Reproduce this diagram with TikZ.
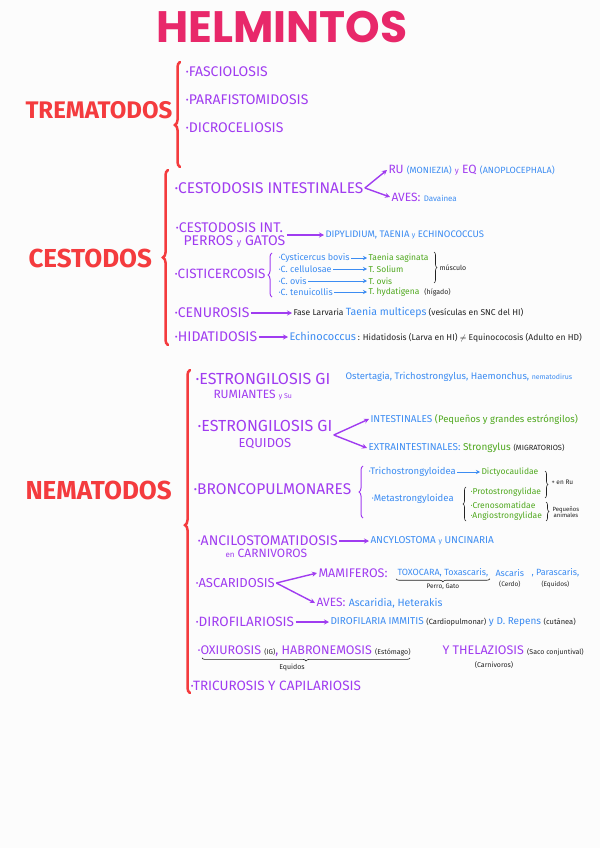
\documentclass[tikz,border=0pt]{standalone}
\usepackage{fontspec}
\setmainfont{Fira Sans}
\newfontfamily\titlefont{Poppins}
\IfFontExistsTF{FiraSans-Medium.otf}
  {\newfontfamily\itemfont{FiraSans-Medium.otf}}
  {\newfontfamily\itemfont{Fira Sans}}
\usetikzlibrary{arrows.meta,positioning,decorations.pathreplacing}
\definecolor{titlepink}{HTML}{E8286A}
\definecolor{catred}{HTML}{F43B3E}
\definecolor{vio}{HTML}{A03CF0}
\definecolor{azul}{HTML}{3C8CF2}
\definecolor{verde}{HTML}{4FA81E}
\definecolor{tinta}{HTML}{222222}
\definecolor{paper}{HTML}{FCFCFC}

\newcommand{\azul}[2][9]{{\normalfont\color{azul}\fontsize{#1}{#1}\selectfont #2}}
\newcommand{\verde}[2][9]{{\normalfont\color{verde}\fontsize{#1}{#1}\selectfont #2}}
\newcommand{\nota}[2][7]{{\normalfont\color{tinta}\fontsize{#1}{#1}\selectfont #2}}
\newcommand{\fsz}[1]{\fontsize{#1}{#1}\selectfont}

\begin{document}
\begin{tikzpicture}[
    x=1pt, y=-1pt,
    every node/.style={inner sep=0.5pt, outer sep=1pt},
    titulo/.style={font=\titlefont\bfseries\fsz{44}, text=titlepink},
    grupo/.style={anchor=west, font=\bfseries\fsz{26}, text=catred},
    item/.style={anchor=west, font=\itemfont\fsz{14}, text=vio},
    sub/.style={anchor=west, font=\itemfont\fsz{12}, text=vio},
    bluetxt/.style={anchor=west, font=\fsz{9}, text=azul},
    greentxt/.style={anchor=west, font=\fsz{9}, text=verde},
    note/.style={anchor=west, font=\fsz{7}, text=tinta, align=center},
    bigbrace/.style={draw=catred, line width=2.5pt, line cap=round, decorate,
        decoration={brace, amplitude=5pt, aspect=#1}},
    bigbrace/.default=0.5,
    subbrace/.style={draw=vio, line width=1pt, decorate,
        decoration={brace, amplitude=4pt}},
    inkbrace/.style={draw=tinta, line width=0.6pt, decorate,
        decoration={brace, amplitude=3pt}},
    parrow/.style={-{Stealth[length=5pt, width=5pt]}, draw=vio, line width=1.4pt},
    barrow/.style={-{Stealth[length=4pt, width=4pt]}, draw=azul, line width=0.9pt}
]

% --- page ---
\fill[paper] (0,0) rectangle (600,848);
\useasboundingbox (0,0) rectangle (600,848);

\node[titulo] (title) at (282,27) {HELMINTOS};

% --- trematodos ---
\node[grupo, font=\bfseries\fsz{24}] (trem) at (24,110) {TREMATODOS};
\coordinate (tremtop) at (180,62);
\coordinate (trembot) at (180,167);
\draw[bigbrace=0.4] (trembot) -- (tremtop);
\node[item] (fasc) at (184,72) {·FASCIOLOSIS};
\node[item] (paraf) at (184,100) {·PARAFISTOMIDOSIS};
\node[item] (dicro) at (184,128) {·DICROCELIOSIS};

% --- cestodos ---
\node[grupo] (cest) at (27,258) {CESTODOS};
\coordinate (cesttop) at (168,170);
\coordinate (cestbot) at (168,345);
\draw[bigbrace=0.5] (cestbot) -- (cesttop);

\node[item, font=\itemfont\fsz{15.5}] (cint) at (173,188) {·CESTODOSIS INTESTINALES};
\node[sub] (rueq) at (387,170) {RU \azul{(MONIEZIA)} {\fsz{8}y} EQ \azul{(ANOPLOCEPHALA)}};
\node[sub] (avesc) at (390,197) {AVES: \azul[8]{Davainea}};
\draw[parrow] (cint.east) -- (rueq.west);
\draw[parrow] (cint.east) -- (avesc.west);

\node[item, align=left] (cperr) at (174,235) {·CESTODOSIS INT.\\[-1pt]\hspace*{8pt}PERROS {\fsz{9}y} GATOS};
\node[bluetxt, font=\fsz{9.5}] (dipy) at (324,235) {DIPYLIDIUM, TAENIA {\fsz{7}y} ECHINOCOCCUS};
\draw[parrow] (cperr.east) -- (dipy.west);

\node[item, font=\itemfont\fsz{13.5}] (cist) at (173,274) {·CISTICERCOSIS};
\coordinate (cisttop) at (272,253);
\coordinate (cistbot) at (272,297);
\draw[subbrace] (cistbot) -- (cisttop);
\node[bluetxt] (cbov) at (277,258) {·Cysticercus bovis};
\node[bluetxt] (ccel) at (277,269) {·C. cellulosae};
\node[bluetxt] (covi) at (277,281) {·C. ovis};
\node[bluetxt] (cten) at (277,292) {·C. tenuicollis};
\node[greentxt, font=\fsz{8.5}] (tsag) at (367,258) {Taenia saginata};
\node[greentxt, font=\fsz{8.5}] (tsol) at (367,269) {T. Solium};
\node[greentxt, font=\fsz{8.5}] (tovi) at (367,281) {T. ovis};
\node[greentxt, font=\fsz{8.5}] (thyd) at (367,292) {T. hydatigena};
\node[note, right=2pt of thyd] (higa) {(hígado)};
\foreach \a/\b in {cbov/tsag, ccel/tsol, covi/tovi, cten/thyd}
  \draw[barrow] (\a.east) -- (\b.west);
\coordinate (musctop) at (434,252);
\coordinate (muscbot) at (434,283);
\draw[inkbrace] (musctop) -- (muscbot);
\node[note] (musc) at (438,268) {músculo};

\node[item] (cenu) at (173,313) {·CENUROSIS};
\node[note, font=\fsz{8.5}] (fase) at (292,313) {Fase Larvaria \azul[10.5]{Taenia multiceps} (vesículas en SNC del HI)};
\draw[parrow] (cenu.east) -- (fase.west);

\node[item] (hida) at (173,337) {·HIDATIDOSIS};
\node[bluetxt, font=\fsz{11}] (echi) at (288,337) {Echinococcus\,\nota[8.5]{: Hidatidosis (Larva en HI) $\neq$ Equinococosis (Adulto en HD)}};
\draw[parrow] (hida.east) -- (echi.west);

% --- nematodos ---
\node[grupo] (nema) at (24,490) {NEMATODOS};
\coordinate (nematop) at (190,370);
\coordinate (nemabot) at (190,693);
\draw[bigbrace=0.52] (nemabot) -- (nematop);

\node[item, font=\itemfont\fsz{16}] (egru) at (194,379) {·ESTRONGILOSIS GI};
\node[sub] (rumi) at (212,395) {RUMIANTES {\fsz{7}y Su}};
\node[bluetxt, font=\fsz{9.5}] (oste) at (344,377) {Ostertagia, Trichostrongylus, Haemonchus, {\fsz{7}nematodirus}};

\node[item, font=\itemfont\fsz{16}, align=center] (eequ) at (196,435) {·ESTRONGILOSIS GI\\{\fsz{13}EQUIDOS}};
\node[bluetxt, font=\fsz{10}] (intes) at (369,419) {INTESTINALES \verde[9.5]{(Pequeños y grandes estróngilos)}};
\node[bluetxt, font=\fsz{10}] (extra) at (367,448) {EXTRAINTESTINALES: \verde[10]{Strongylus} \nota[7.5]{(MIGRATORIOS)}};
\draw[parrow] (eequ.east) -- (intes.west);
\draw[parrow] (eequ.east) -- (extra.west);

\node[item, font=\itemfont\fsz{15.5}] (bron) at (192,489) {·BRONCOPULMONARES};
\coordinate (brontop) at (363,466);
\coordinate (bronbot) at (363,518);
\draw[subbrace] (bronbot) -- (brontop);
\node[bluetxt, font=\fsz{9.5}] (tric) at (367,472) {·Trichostrongyloidea};
\node[greentxt, font=\fsz{8.5}] (dict) at (480,472) {Dictyocaulidae};
\draw[barrow] (tric.east) -- (dict.west);
\node[bluetxt, font=\fsz{9.5}] (meta) at (370,499) {·Metastrongyloidea};
\coordinate (metatop) at (466,487);
\coordinate (metabot) at (466,521);
\draw[inkbrace] (metabot) -- (metatop);
\node[greentxt, font=\fsz{8.5}] (prot) at (469,492) {·Protostrongylidae};
\node[greentxt, font=\fsz{8.5}] (cren) at (469,505) {·Crenosomatidae};
\node[greentxt, font=\fsz{8.5}] (angi) at (469,516) {·Angiostrongylidae};
\coordinate (rutop) at (545,471);
\coordinate (rubot) at (545,498);
\draw[inkbrace] (rutop) -- (rubot);
\node[note, font=\fsz{6.5}] (enru) at (550,482) {+ en Ru};
\coordinate (peqtop) at (546,502);
\coordinate (peqbot) at (546,521);
\draw[inkbrace] (peqtop) -- (peqbot);
\node[note, font=\fsz{6}] (peqa) at (551,512) {Pequeños\\animales};

\node[item] (anci) at (196,541) {·ANCILOSTOMATIDOSIS};
\node[sub] (encar) at (224,553) {{\fsz{8}en} CARNIVOROS};
\node[bluetxt, font=\fsz{10}] (ancy) at (369,541) {ANCYLOSTOMA {\fsz{7}y} UNCINARIA};
\draw[parrow] (anci.east) -- (ancy.west);

\node[item, font=\itemfont\fsz{13}] (asca) at (194,583) {·ASCARIDOSIS};
\node[sub, font=\itemfont\fsz{12.5}] (mami) at (317,573) {MAMIFEROS:};
\node[bluetxt] (toxo) at (396,573) {TOXOCARA, Toxascaris,};
\draw[inkbrace] (toxo.south east) -- (toxo.south west);
\node[note, font=\fsz{6.5}, below=4pt of toxo] (pega) {Perro, Gato};
\node[bluetxt] (ascr) at (494,573) {Ascaris};
\node[note, font=\fsz{6.5}, below=1pt of ascr] (cerd) {(Cerdo)};
\node[bluetxt] (pasc) at (530,573) {, Parascaris,};
\node[note, font=\fsz{6.5}, below=1pt of pasc] (equs) {(Equidos)};
\node[sub] (aves) at (315,603) {AVES: \azul[10.5]{Ascaridia, Heterakis}};
\draw[parrow] (asca.east) -- (mami.west);
\draw[parrow] (asca.east) -- (aves.west);

\node[item, font=\itemfont\fsz{13.5}] (diro) at (194,622) {·DIROFILARIOSIS};
\node[bluetxt, font=\fsz{10}] (immi) at (329,622) {DIROFILARIA IMMITIS \nota[7.5]{(Cardiopulmonar)} y D. Repens \nota[7.5]{(cutánea)}};
\draw[parrow] (diro.east) -- (immi.west);

\node[item, font=\itemfont\fsz{12.5}] (oxiu) at (196,651) {·OXIUROSIS \nota{(IG)}, HABRONEMOSIS \nota{(Estómago)}};
\draw[inkbrace] ([xshift=-2pt]oxiu.south east) -- ([xshift=6pt]oxiu.south west);
\node[note, anchor=center] (equi) at (292,668) {Equidos};
\node[item, font=\itemfont\fsz{12.5}] (thel) at (441,651) {Y THELAZIOSIS \nota[7]{(Saco conjuntival)}};
\node[note, anchor=center] (carn) at (494,665) {(Carnivoros)};

\node[item, font=\itemfont\fsz{13.5}] (tricu) at (189,686) {·TRICUROSIS Y CAPILARIOSIS};

\end{tikzpicture}
\end{document}
